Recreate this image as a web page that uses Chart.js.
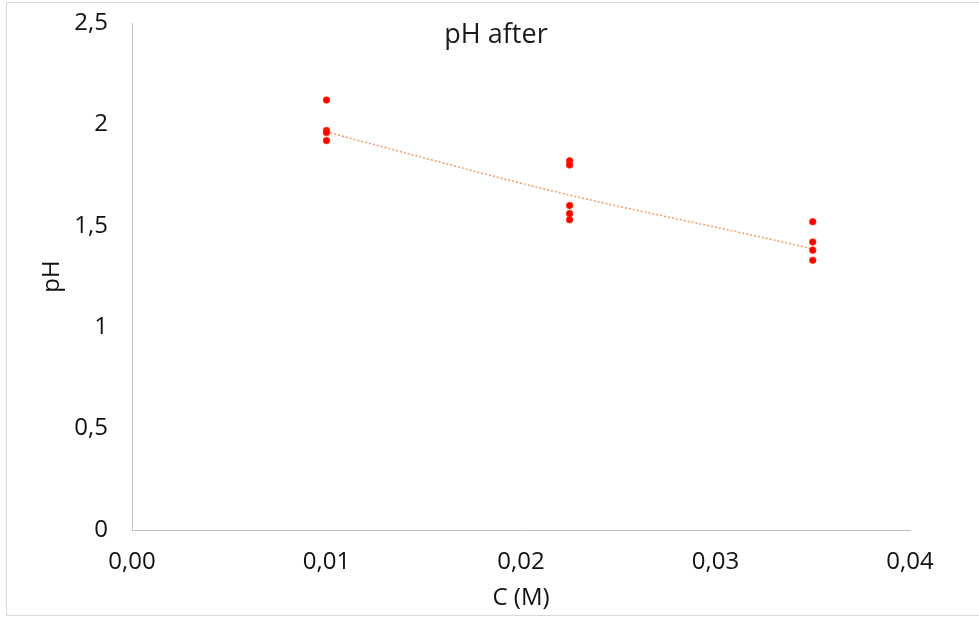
<!DOCTYPE html>
<html>
<head>
<meta charset="utf-8">
<script src="https://cdn.jsdelivr.net/npm/chart.js@4/dist/chart.umd.min.js"></script>
<style>
  html, body { margin: 0; padding: 0; background: #fff; overflow: hidden; }
  #frame { position: absolute; left: 6px; top: 2px; width: 1000px; height: 614px; border: 1px solid #d9d9d9; box-sizing: border-box; }
  #wrap { position: absolute; left: 0; top: 0; width: 979px; height: 619px; }
</style>
</head>
<body>
<div id="frame"></div>
<div id="wrap"><canvas id="chart" width="979" height="619"></canvas></div>
<script>
// Measured pH after mixing, grouped by concentration C (M)
const concentrations = [0.01, 0.0225, 0.035];
const phAt001  = [2.12, 1.97, 1.96, 1.92];
const phAt0225 = [1.82, 1.80, 1.60, 1.56, 1.53];
const phAt035  = [1.52, 1.42, 1.38, 1.33];

// Exponential trend line, sampled along its length
const trendX = [0.01, 0.0116, 0.021, 0.024, 0.0336, 0.035];
const trendY = [1.963, 1.922, 1.686, 1.618, 1.417, 1.385];

// Axis ticks
const xTickValues = [0, 0.01, 0.02, 0.03, 0.04];
const xTickLabels = ['0,00', '0,01', '0,02', '0,03', '0,04'];
const yTickValues = [0, 0.5, 1, 1.5, 2, 2.5];
const yTickLabels = ['0', '0,5', '1', '1,5', '2', '2,5'];

const chartTitle = 'pH after';
const xTitle = 'C (M)';
const yTitle = 'pH';

const groups = [phAt001, phAt0225, phAt035];
const points = [];
groups.forEach((vals, i) => vals.forEach(v => points.push({ x: concentrations[i], y: v })));
const trend = trendX.map((x, i) => ({ x, y: trendY[i] }));

const FONT = "'Open Sans', sans-serif";

const titleOverlay = {
  id: 'titleOverlay',
  afterDraw(chart) {
    const ctx = chart.ctx;
    ctx.save();
    ctx.font = "27px " + FONT;
    ctx.fillStyle = '#1a1a1a';
    ctx.textAlign = 'center';
    ctx.textBaseline = 'alphabetic';
    ctx.fillText(chartTitle, 496, 43);
    ctx.restore();
  }
};

new Chart(document.getElementById('chart'), {
  type: 'scatter',
  data: {
    datasets: [
      {
        label: 'pH',
        data: points,
        backgroundColor: '#ff0000',
        borderColor: '#ff3300',
        borderWidth: 0.8,
        pointRadius: 3.3
      },
      {
        label: 'trend',
        data: trend,
        showLine: true,
        cubicInterpolationMode: 'monotone',
        borderColor: '#f39a68',
        borderWidth: 1.5,
        borderDash: [2, 2],
        pointRadius: 0,
        fill: false
      }
    ]
  },
  options: {
    responsive: false,
    animation: false,
    layout: { padding: { left: 0, right: 69, top: 23, bottom: 0 } },
    plugins: {
      legend: { display: false },
      tooltip: { enabled: false },
      title: { display: false }
    },
    scales: {
      x: {
        type: 'linear',
        min: 0,
        max: 0.04,
        afterBuildTicks(scale) { scale.ticks = xTickValues.map(v => ({ value: v })); },
        afterFit(scale) {
          scale.height = 89;
          scale.paddingLeft = 0;
          scale.paddingRight = 0;
          scale.paddingTop = 0;
          scale.paddingBottom = 0;
        },
        grid: { display: false, drawTicks: false },
        border: { display: true, color: '#bfbfbf', width: 1 },
        ticks: {
          padding: 18,
          color: '#111',
          font: { family: FONT, size: 24 },
          maxRotation: 0,
          callback: (v, i) => xTickLabels[i]
        },
        title: {
          display: true,
          text: xTitle,
          color: '#111',
          font: { family: FONT, size: 24 },
          padding: { top: 0, bottom: 6 }
        }
      },
      y: {
        type: 'linear',
        min: 0,
        max: 2.5,
        afterBuildTicks(scale) { scale.ticks = yTickValues.map(v => ({ value: v })); },
        afterFit(scale) {
          scale.width = 132;
          scale.paddingLeft = 0;
          scale.paddingRight = 0;
          scale.paddingTop = 0;
          scale.paddingBottom = 0;
        },
        grid: { display: false, drawTicks: false },
        border: { display: true, color: '#bfbfbf', width: 1 },
        ticks: {
          padding: 24,
          color: '#111',
          font: { family: FONT, size: 24 },
          callback: (v, i) => yTickLabels[i]
        },
        title: {
          display: true,
          text: yTitle,
          color: '#111',
          font: { family: FONT, size: 24 },
          padding: { top: 38, bottom: 0 }
        }
      }
    }
  },
  plugins: [titleOverlay]
});
</script>
</body>
</html>
